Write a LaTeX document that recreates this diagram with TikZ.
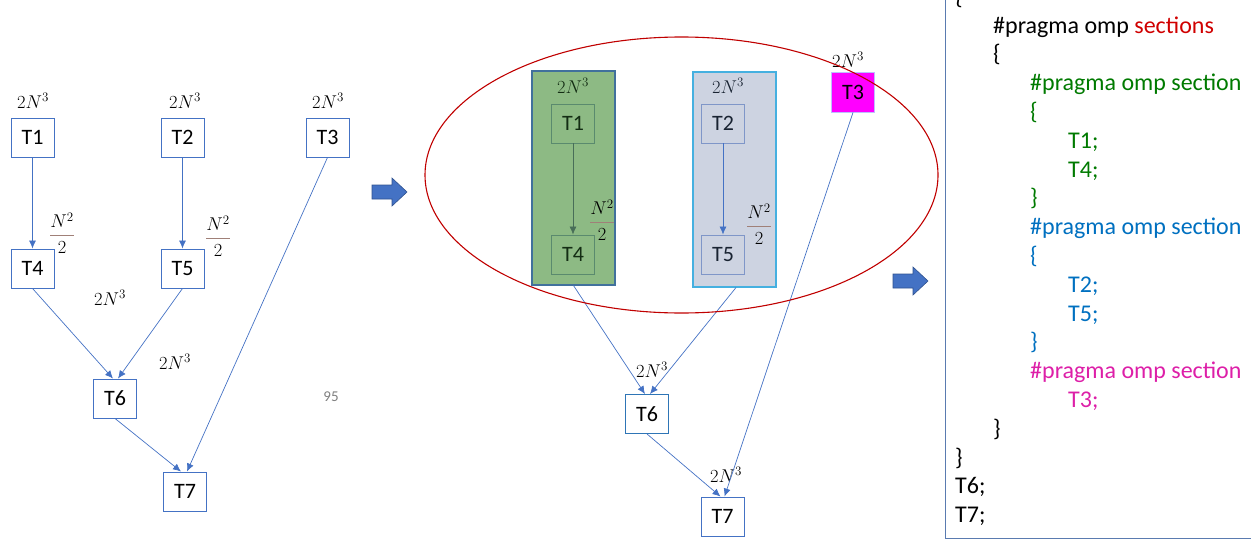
\documentclass[tikz,border=0pt]{standalone}
\usepackage{fix-cm}
\usepackage{fontspec}
\setmainfont{Carlito}
\usetikzlibrary{arrows.meta}
\definecolor{lblue}{HTML}{4472C4}
\definecolor{ellred}{HTML}{C00000}
\definecolor{grfill}{HTML}{8DBA84}
\definecolor{grbord}{HTML}{41719C}
\definecolor{gyfill}{HTML}{CDD3E1}
\definecolor{gybord}{HTML}{45B0E0}
\definecolor{ingr}{HTML}{5A8A6E}
\definecolor{ingy}{HTML}{7F96C8}
\definecolor{fracl}{HTML}{A08078}
\definecolor{cgreen}{HTML}{007A00}
\definecolor{cblue}{HTML}{0070C0}
\definecolor{cmag}{HTML}{DD1FA8}
\definecolor{cred}{HTML}{D00000}
\definecolor{codebord}{HTML}{5A7BB0}
\definecolor{arrbord}{HTML}{2F528F}
\tikzset{
  task/.style={draw=lblue, line width=0.9pt, fill=white, minimum width=43pt, minimum height=39pt, inner sep=0pt, font=\fontsize{22}{24}\selectfont},
  intask/.style={task, fill=none},
  lab/.style={inner sep=0pt, font=\fontsize{18.5}{20}\selectfont},
  edge/.style={draw=lblue, line width=0.7pt, -{Latex[length=8pt,width=7pt]}},
  code/.style={anchor=base west, inner sep=0pt, font=\fontsize{24}{29}\selectfont},
  blockarrow/.style={fill=lblue, draw=arrbord, line width=0.6pt},
}
\newcommand{\halfsq}{\displaystyle{{\color{black}N^2}\above1.3pt{\color{black}2}}}
\begin{document}
\begin{tikzpicture}[x=1pt,y=-1pt]
\useasboundingbox (0,0) rectangle (1251,541);
\clip (0,0) rectangle (1251,541);
% ---------- left graph ----------
\node[task] (t1) at (32.5,137.5) {T1};
\node[task] (t2) at (182.5,137.5) {T2};
\node[task] (t3) at (327.5,137.5) {T3};
\node[task] (t4) at (32.5,268.5) {T4};
\node[task] (t5) at (182.5,268.5) {T5};
\node[task] (t6) at (115,398.5) {T6};
\node[task] (t7) at (185,491.5) {T7};
\node[lab] (l1) at (33,101) {$2N^3$};
\node[lab] (l2) at (185,101) {$2N^3$};
\node[lab] (l3) at (328,101) {$2N^3$};
\node[lab, color=fracl] (f1) at (62,233) {$\halfsq$};
\node[lab, color=fracl] (f2) at (218,236) {$\halfsq$};
\node[lab] (l4) at (110,298) {$2N^3$};
\node[lab] (l5) at (175,362) {$2N^3$};
\node[inner sep=0pt, text=gray, font=\fontsize{15}{18}\selectfont] (pg) at (331,397) {95};
\draw[edge] (t1.south) -- (t4.north);
\draw[edge] (t2.south) -- (t5.north);
\draw[edge] (t4.south) -- ([xshift=-2]t6.north);
\draw[edge] (t5.south) -- ([xshift=3]t6.north);
\draw[edge] (t3.south) -- ([xshift=2]t7.north);
\draw[edge] (t6.south) -- ([xshift=-4]t7.north);
% ---------- block arrows ----------
\filldraw[blockarrow] (372,185) -- (392,185) -- (392,178) -- (407,192) -- (392,206) -- (392,199) -- (372,199) -- cycle;
\filldraw[blockarrow] (893,274) -- (913,274) -- (913,267) -- (928,281) -- (913,295) -- (913,288) -- (893,288) -- cycle;
% ---------- right graph ----------
\node[draw=grbord, fill=grfill, line width=1.1pt, minimum width=83pt, minimum height=214pt, inner sep=0pt] (g) at (573.5,178) {};
\node[draw=gybord, fill=gyfill, line width=1.1pt, minimum width=83pt, minimum height=215pt, inner sep=0pt] (b) at (734.5,179.5) {};
\node[intask, draw=ingr, text={rgb,255:red,20;green,45;blue,20}] (r1) at (573,123.5) {T1};
\node[intask, draw=ingr, text={rgb,255:red,20;green,45;blue,20}] (r4) at (573,254.5) {T4};
\node[intask, draw=ingy, text={rgb,255:red,25;green,35;blue,50}] (r2) at (723,123.5) {T2};
\node[intask, draw=ingy, text={rgb,255:red,25;green,35;blue,50}] (r5) at (723,254.5) {T5};
\node[task, draw={rgb,255:red,190;green,190;blue,255}, fill={rgb,255:red,255;green,0;blue,255}, minimum height=40pt] (r3) at (853,92) {T3};
\node[lab, text={rgb,255:red,20;green,45;blue,20}] (rl1) at (573,86) {$2N^3$};
\node[lab, text={rgb,255:red,25;green,35;blue,50}] (rl2) at (728,86) {$2N^3$};
\node[lab] (rl3) at (848,60) {$2N^3$};
\node[lab, color=fracl] (rf1) at (602,220) {$\halfsq$};
\node[lab, color=fracl] (rf2) at (759,224) {$\halfsq$};
\draw[edge, draw=ingr!80!black, -{Latex[length=8pt,width=7pt,fill=ingr!80!black]}] (r1.south) -- (r4.north);
\draw[edge] (r2.south) -- (r5.north);
\node[task, draw={rgb,255:red,46;green,117;blue,182}] (r6) at (647,414) {T6};
\node[task] (r7) at (722.5,516.5) {T7};
\node[lab] (rl4) at (652,370) {$2N^3$};
\node[lab] (rl5) at (726,475) {$2N^3$};
\draw[edge] (g.south) -- ([xshift=-2]r6.north);
\draw[edge] ([xshift=1.5]b.south) -- ([xshift=3]r6.north);
\draw[edge] (r3.south) -- ([xshift=2]r7.north);
\draw[edge] (r6.south) -- ([xshift=-2]r7.north);
\draw[ellred, line width=1.1pt] (681.5,175) ellipse [x radius=256.5, y radius=138];
% ---------- code ----------
\draw[codebord, line width=1pt] (945,-10) rectangle (1262,538);
\node[code] (c0) at (955,4.2) {\{};
\node[code] (c1) at (993,33) {\#pragma omp \textcolor{cred}{sections}};
\node[code] (c2) at (993,61.8) {\{};
\node[code, text=cgreen] (c3) at (1030,90.6) {\#pragma omp section};
\node[code, text=cgreen] (c4) at (1030,119.4) {\{};
\node[code, text=cgreen] (c5) at (1068,148.2) {T1;};
\node[code, text=cgreen] (c6) at (1068,177) {T4;};
\node[code, text=cgreen] (c7) at (1030,205.8) {\}};
\node[code, text=cblue] (c8) at (1030,234.6) {\#pragma omp section};
\node[code, text=cblue] (c9) at (1030,263.4) {\{};
\node[code, text=cblue] (c10) at (1068,292.2) {T2;};
\node[code, text=cblue] (c11) at (1068,321) {T5;};
\node[code, text=cblue] (c12) at (1030,349.8) {\}};
\node[code, text=cmag] (c13) at (1030,378.6) {\#pragma omp section};
\node[code, text=cmag] (c14) at (1068,407.4) {T3;};
\node[code] (c15) at (993,436.2) {\}};
\node[code] (c16) at (955,465) {\}};
\node[code] (c17) at (955,493.8) {T6;};
\node[code] (c18) at (955,522.6) {T7;};
\end{tikzpicture}
\end{document}
